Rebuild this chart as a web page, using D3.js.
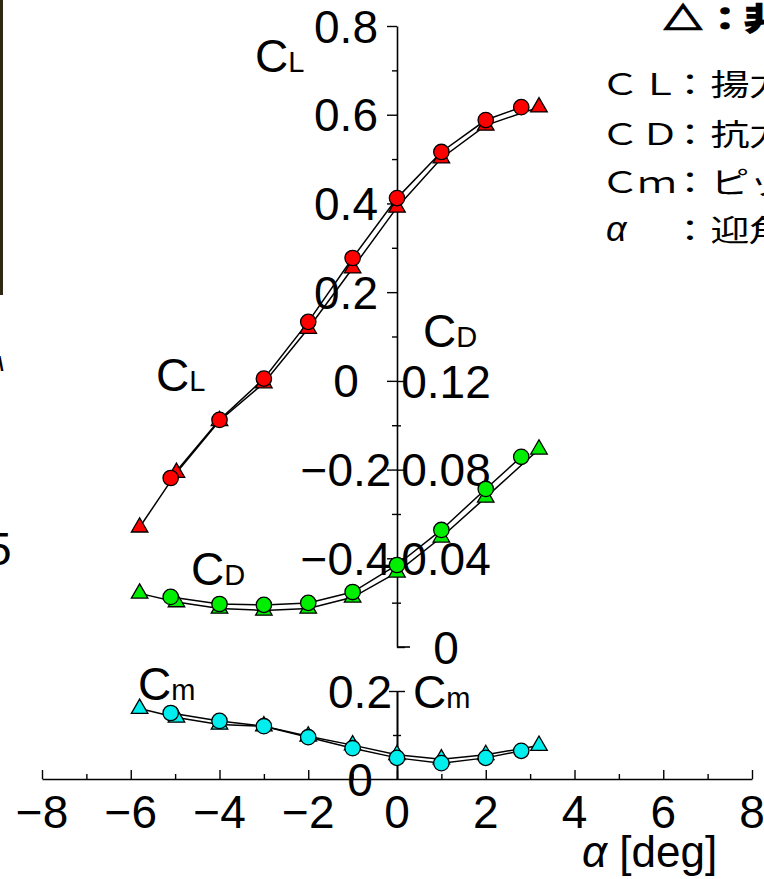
<!DOCTYPE html>
<html>
<head>
<meta charset="utf-8">
<script src="https://cdn.jsdelivr.net/npm/d3@7"></script>
<style>
  body { margin: 0; background: #fff; }
  svg { display: block; }
  text { font-family: "Liberation Sans", Arial, sans-serif; fill: #000; }
  .jp { font-family: "Noto Sans CJK JP", sans-serif; }
</style>
</head>
<body>
<script>
// ---- data ----
// circles
const alphaCircle = [-5.1, -4, -3, -2, -1, 0, 1, 2, 2.8];
const clCircle = [-0.219, -0.088, 0.005, 0.133, 0.277, 0.412, 0.516, 0.588, 0.617];
const cdCircle = [0.0226, 0.0194, 0.019, 0.0199, 0.0248, 0.037, 0.0528, 0.0713, 0.0858];
const cmCircle = [0.15, 0.132, 0.12, 0.095, 0.07, 0.048, 0.036, 0.048, 0.064];

// triangles
const alphaTri = [-5.8, -4.97, -4, -3, -2, -1, 0, 1, 2, 3.2];
const clTri = [-0.33, -0.207, -0.09, -0.005, 0.118, 0.254, 0.391, 0.502, 0.576, 0.617];
const cdTri = [0.0242, 0.0203, 0.0174, 0.0165, 0.0174, 0.0224, 0.0337, 0.0495, 0.0675, 0.0892];
const cmTri = [0.16, 0.14, 0.124, 0.12, 0.097, 0.077, 0.055, 0.045, 0.055, 0.076];

// ticks
const xTicks = [-8, -6, -4, -2, 0, 2, 4, 6, 8];
const xMinor = [-7, -5, -3, -1, 1, 3, 5, 7];
const clTicks = [-0.4, -0.2, 0, 0.2, 0.4, 0.6, 0.8];
const clMinor = [-0.5, -0.3, -0.1, 0.1, 0.3, 0.5, 0.7];
const cdTicks = [0, 0.04, 0.08, 0.12];
const cdMinor = [0.02, 0.06, 0.1];
const cmTicks = [0, 0.2];
const cmMinor = [0.1];

const colCL = '#ff0000', colCD = '#00ee00', colCm = '#00eeee';

// ---- svg ----
const width = 764, height = 879;
const svg = d3.select('body').append('svg')
  .attr('width', width)
  .attr('height', height);

const x = d3.scaleLinear().domain([-8, 8]).range([42, 752]);
const yCL = d3.scaleLinear().domain([-0.6, 0.8]).range([647, 26]);
const yCD = d3.scaleLinear().domain([0, 0.12]).range([647, 381]);
const yCm = d3.scaleLinear().domain([0, 0.2]).range([779, 691]);
const x0 = x(0);

// cropped neighbour figure on the left edge
svg.append('rect').attr('x', 0).attr('y', 0).attr('width', 3).attr('height', 295).attr('fill', '#2e2812');
svg.append('text').attr('x', -14).attr('y', 565).attr('font-size', 46).text('5');
svg.append('text').attr('x', -2).attr('y', 371).attr('font-size', 20).attr('font-weight', 'bold').text('\\');

// ---- axes ----
function styleAxis(g) {
  g.selectAll('path.domain').attr('stroke', '#000').attr('stroke-width', 1.6);
  g.selectAll('.tick line').attr('stroke', '#000').attr('stroke-width', 1.4);
  g.selectAll('.tick text').remove();
}

// x axis, ticks pointing up
svg.append('g').attr('transform', 'translate(0,' + yCm(0) + ')')
  .call(d3.axisTop(x).tickValues(xTicks).tickSize(9).tickSizeOuter(0).tickFormat(''))
  .call(styleAxis);
svg.append('g').attr('transform', 'translate(0,' + yCm(0) + ')')
  .call(d3.axisTop(x).tickValues(xMinor).tickSize(5).tickSizeOuter(0).tickFormat(''))
  .call(styleAxis)
  .select('.domain').remove();

svg.append('g').selectAll('text')
  .data(xTicks)
  .enter().append('text')
  .attr('x', d => x(d))
  .attr('y', 828)
  .attr('text-anchor', 'middle')
  .attr('font-size', 46)
  .text(d => d3.format('d')(d));

// CL axis
svg.append('g').attr('transform', 'translate(' + x0 + ',0)')
  .call(d3.axisLeft(yCL).tickValues(clTicks).tickSize(10).tickSizeOuter(0).tickFormat(''))
  .call(styleAxis);
svg.append('g').attr('transform', 'translate(' + x0 + ',0)')
  .call(d3.axisLeft(yCL).tickValues(clMinor).tickSize(5).tickSizeOuter(0).tickFormat(''))
  .call(styleAxis)
  .select('.domain').remove();

// CD axis, same line, ticks to the right
svg.append('g').attr('transform', 'translate(' + x0 + ',0)')
  .call(d3.axisRight(yCD).tickValues(cdTicks).tickSize(8).tickSizeOuter(0).tickFormat(''))
  .call(styleAxis)
  .select('.domain').remove();
svg.append('g').attr('transform', 'translate(' + x0 + ',0)')
  .call(d3.axisRight(yCD).tickValues(cdMinor).tickSize(4).tickSizeOuter(0).tickFormat(''))
  .call(styleAxis)
  .select('.domain').remove();
svg.append('line')
  .attr('x1', x0).attr('x2', x0 + 13)
  .attr('y1', yCD(0)).attr('y2', yCD(0))
  .attr('stroke', '#000').attr('stroke-width', 1.6);

// Cm axis, ticks on both sides
[d3.axisLeft, d3.axisRight].forEach(ax => {
  svg.append('g').attr('transform', 'translate(' + x0 + ',0)')
    .call(ax(yCm).tickValues([0.2]).tickSize(8).tickSizeOuter(0).tickFormat(''))
    .call(styleAxis);
  svg.append('g').attr('transform', 'translate(' + x0 + ',0)')
    .call(ax(yCm).tickValues(cmMinor).tickSize(4).tickSizeOuter(0).tickFormat(''))
    .call(styleAxis)
    .select('.domain').remove();
});

// tick labels, centred in a column beside the axis
function yLabels(ticks, scale, cx, fmt) {
  svg.append('g').selectAll('text')
    .data(ticks)
    .enter().append('text')
    .attr('x', cx)
    .attr('y', d => scale(d) + 16.5)
    .attr('text-anchor', 'middle')
    .attr('font-size', 46)
    .text(d => d === 0 ? '0' : fmt(d));
}
yLabels(clTicks, yCL, 346, d3.format('.1f'));
yLabels(cdTicks, yCD, 446, d3.format('.2f'));
yLabels(cmTicks, yCm, 360, d3.format('.1f'));

// ---- series ----
const series = [
  {a: alphaCircle, v: clCircle, y: yCL, col: colCL, kind: 'circle'},
  {a: alphaCircle, v: cdCircle, y: yCD, col: colCD, kind: 'circle'},
  {a: alphaCircle, v: cmCircle, y: yCm, col: colCm, kind: 'circle'},
  {a: alphaTri, v: clTri, y: yCL, col: colCL, kind: 'tri'},
  {a: alphaTri, v: cdTri, y: yCD, col: colCD, kind: 'tri'},
  {a: alphaTri, v: cmTri, y: yCm, col: colCm, kind: 'tri'}
];

series.forEach(s => {
  const pts = d3.zip(s.a, s.v);
  svg.append('path')
    .attr('d', d3.line().x(d => x(d[0])).y(d => s.y(d[1]))(pts))
    .attr('fill', 'none')
    .attr('stroke', '#000')
    .attr('stroke-width', 1.5);
});

const tri = d3.symbol().type(d3.symbolTriangle).size(118);
series.filter(s => s.kind === 'tri').forEach(s => {
  svg.append('g').selectAll('path')
    .data(d3.zip(s.a, s.v))
    .enter().append('path')
    .attr('d', tri)
    .attr('transform', d => 'translate(' + x(d[0]) + ',' + s.y(d[1]) + ')')
    .attr('fill', s.col)
    .attr('stroke', '#000')
    .attr('stroke-width', 1.3);
});
series.filter(s => s.kind === 'circle').forEach(s => {
  svg.append('g').selectAll('circle')
    .data(d3.zip(s.a, s.v))
    .enter().append('circle')
    .attr('cx', d => x(d[0]))
    .attr('cy', d => s.y(d[1]))
    .attr('r', 7.7)
    .attr('fill', s.col)
    .attr('stroke', '#000')
    .attr('stroke-width', 1.3);
});

// ---- curve / axis names ----
const names = [
  ['C', 'L', 255, 72], ['C', 'L', 156, 391],
  ['C', 'D', 191, 585], ['C', 'D', 423, 347],
  ['C', 'm', 138, 700], ['C', 'm', 413, 708]
];
names.forEach(n => {
  const t = svg.append('text').attr('x', n[2]).attr('y', n[3]).attr('font-size', 46);
  t.append('tspan').text(n[0]);
  t.append('tspan').attr('font-size', 29).text(n[1]);
});

const xl = svg.append('text').attr('x', 582).attr('y', 867).attr('font-size', 44);
xl.append('tspan').attr('font-style', 'italic').text('α');
xl.append('tspan').text(' [deg]');

// ---- legend (stretched horizontally like the source) ----
const sx = 1.3;
const legend = [
  {txt: '△：非', xs: [683, 725, 764], y: 29, w: 'bold', sw: 1.6},
  {txt: 'ＣＬ：揚力', xs: [620, 660, 690, 730, 768], y: 95},
  {txt: 'ＣＤ：抗力', xs: [620, 660, 690, 730, 768], y: 145},
  {txt: 'Ｃｍ：ピッ', xs: [620, 657, 690, 730, 768], y: 193},
  {txt: '：迎角', xs: [690, 730, 768], y: 241}
];
legend.forEach(r => {
  svg.append('text')
    .attr('class', 'jp')
    .attr('transform', 'scale(' + sx + ',1)')
    .attr('x', r.xs.map(v => v / sx).join(' '))
    .attr('y', r.y)
    .attr('text-anchor', 'middle')
    .attr('font-size', 30)
    .attr('font-weight', r.w || 'normal')
    .attr('stroke', r.sw ? '#000' : 'none')
    .attr('stroke-width', r.sw || 0)
    .text(r.txt);
});
svg.append('text')
  .attr('x', 606).attr('y', 241)
  .attr('font-size', 36)
  .attr('font-style', 'italic')
  .text('α');
</script>
</body>
</html>
